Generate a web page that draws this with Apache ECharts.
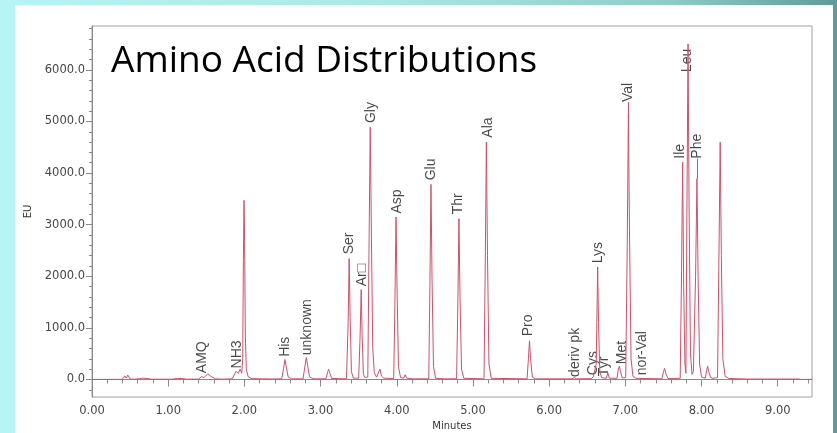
<!DOCTYPE html>
<html>
<head>
<meta charset="utf-8">
<script src="https://cdn.jsdelivr.net/npm/echarts@6/dist/echarts.min.js"></script>
<style>
  html, body { margin: 0; padding: 0; width: 837px; height: 433px; overflow: hidden; }
  body { background: linear-gradient(90deg, #b6f5f5 0%, #abe8e8 45%, #8ecbcb 80%, #5e9c9c 100%); }
  #panel { position: absolute; left: 15px; top: 5px; width: 818px; height: 428px; background: #ffffff; }
  #chart { position: absolute; left: 0; top: 0; width: 837px; height: 433px; }
</style>
</head>
<body>
<div id="panel"></div>
<div id="chart"></div>
<script>
// Fluorescence trace: [retention time (min), response (EU)]
const tracePoints = [
  [0, 0], [0.40, 3], [0.43, 70], [0.45, 25], [0.47, 85], [0.50, 8], [0.56, 5],
  [0.62, 15], [0.66, 25], [0.72, 20], [0.78, 5], [1.05, 5], [1.12, 20], [1.18, 18], [1.24, 5],
  [1.40, 8], [1.44, 55], [1.47, 35], [1.52, 110], [1.56, 60], [1.62, 12], [1.70, 5],
  [1.84, 12], [1.89, 160], [1.92, 115], [1.945, 200], [1.965, 120],
  [1.978, 400], [1.987, 2300], [1.995, 3470], [2.003, 2700], [2.012, 900], [2.025, 200], [2.05, 50], [2.10, 15],
  [2.33, 10], [2.35, 25], [2.37, 10],
  [2.49, 12], [2.515, 220], [2.533, 387], [2.55, 240], [2.575, 50], [2.62, 12],
  [2.77, 12], [2.795, 260], [2.813, 426], [2.83, 270], [2.855, 50], [2.90, 12],
  [3.07, 12], [3.095, 150], [3.105, 200], [3.118, 140], [3.145, 20],
  [3.34, 12], [3.362, 1100], [3.375, 2343], [3.388, 1200], [3.405, 150], [3.43, 25],
  [3.50, 25], [3.518, 800], [3.533, 1742], [3.546, 850], [3.562, 100], [3.58, 40],
  [3.62, 45], [3.635, 2400], [3.652, 4891], [3.668, 2700], [3.685, 600], [3.705, 130], [3.735, 45],
  [3.76, 45], [3.78, 200], [3.80, 65], [3.83, 25],
  [3.96, 18], [3.976, 1500], [3.99, 3148], [4.005, 1650], [4.022, 250], [4.05, 35],
  [4.09, 25], [4.11, 90], [4.13, 25], [4.20, 12],
  [4.42, 12], [4.435, 1800], [4.449, 3781], [4.463, 1950], [4.482, 250], [4.51, 22],
  [4.63, 12], [4.65, 30], [4.67, 12],
  [4.785, 12], [4.802, 1500], [4.816, 3117], [4.83, 1600], [4.85, 200], [4.88, 22],
  [5.145, 12], [5.161, 2200], [5.176, 4600], [5.191, 2400], [5.21, 300], [5.24, 22],
  [5.71, 12], [5.728, 400], [5.742, 748], [5.756, 400], [5.78, 45], [5.82, 12],
  [6.30, 12], [6.33, 35], [6.36, 12],
  [6.55, 15], [6.58, 50], [6.605, 35], [6.618, 300], [6.626, 1100], [6.637, 2180], [6.648, 1100], [6.665, 150], [6.69, 35],
  [6.75, 22], [6.77, 128], [6.79, 25],
  [6.89, 22], [6.908, 200], [6.922, 257], [6.937, 150], [6.96, 30],
  [7.005, 35], [7.025, 2600], [7.04, 5162], [7.055, 2800], [7.075, 400], [7.10, 60], [7.14, 22],
  [7.48, 12], [7.50, 150], [7.515, 213], [7.53, 120], [7.56, 18],
  [7.72, 22], [7.738, 2100], [7.752, 4213], [7.766, 1800], [7.782, 300], [7.795, 120],
  [7.808, 3200], [7.823, 6505], [7.837, 3300], [7.855, 500], [7.875, 100],
  [7.893, 150], [7.922, 2000], [7.94, 3892], [7.955, 2000], [7.975, 300], [8.00, 45],
  [8.05, 25], [8.068, 180], [8.08, 257], [8.095, 150], [8.12, 35], [8.15, 22], [8.18, 30],
  [8.21, 35], [8.228, 2300], [8.245, 4600], [8.26, 2400], [8.28, 400], [8.31, 60], [8.36, 18],
  [8.60, 8], [9.28, 8], [9.31, 0], [9.45, 2]
];

// Peak identification labels
const peakNames    = ['AMQ', 'NH3', 'His', 'unknown', 'Ser', 'Ar\u25A1', 'Gly', 'Asp', 'Glu', 'Thr', 'Ala', 'Pro',
                      'deriv pk', 'Cys', 'Lys', 'Tyr', 'Met', 'Val', 'nor-Val', 'Ile', 'Leu', 'Phe'];
const labelMinutes = [1.443, 1.90, 2.537, 2.82, 3.37, 3.543, 3.662, 4.003, 4.453, 4.811, 5.197, 5.729,
                      6.343, 6.583, 6.64, 6.727, 6.955, 7.035, 7.225, 7.72, 7.816, 7.94];
const labelLevels  = [122, 213, 438, 470, 2426, 1806, 4968, 3214, 3859, 3200, 4685, 838,
                      50, 83, 2252, 64, 296, 5375, 83, 4279, 5956, 4279];
// peak apex joined to its label by a short leader (null = no leader)
const leaderApex   = [null, null, null, null, null, null, null, null, null, null, null, null,
                      null, null, null, null, null, 5162, null, null, null, 3892];

// Axis ticks
const xMajorTicks = [0, 1, 2, 3, 4, 5, 6, 7, 8, 9];
const yMajorTicks = [0, 1000, 2000, 3000, 4000, 5000, 6000];
const xMinorTicks = [];
for (let i = 1; i <= 47; i++) { if (i % 5 !== 0) xMinorTicks.push(+(i * 0.2).toFixed(1)); }
const yMinorTicks = [];
for (let v = -200; v <= 6800; v += 200) { if (v % 1000 !== 0) yMinorTicks.push(v); }

const traceColor = '#cf5068';
const axisGray = '#8a8a8a';
const tickFont = { fontFamily: 'DejaVu Sans', fontSize: 11.5, color: '#474747' };

const chart = echarts.init(document.getElementById('chart'), null, { renderer: 'canvas' });

const labelData = peakNames.map((n, i) => ({ name: n, value: [labelMinutes[i], labelLevels[i]] }));
const leaderData = [];
leaderApex.forEach((a, i) => {
  if (a !== null) leaderData.push([{ coord: [labelMinutes[i], a] }, { coord: [labelMinutes[i], labelLevels[i]] }]);
});

chart.setOption({
  animation: false,
  backgroundColor: 'transparent',
  graphic: [{
    type: 'text',
    left: 111,
    top: 43,
    style: {
      text: 'Amino Acid Distributions',
      font: '37px "Open Sans"',
      fill: '#000000'
    }
  }],
  grid: {
    left: 92, top: 26, width: 720, height: 371,
    containLabel: false, outerBoundsMode: 'none',
    show: true, borderColor: '#a0a0a0', borderWidth: 1, backgroundColor: 'transparent'
  },
  xAxis: [{
    type: 'value', min: 0, max: 9.45, position: 'bottom',
    name: 'Minutes', nameLocation: 'middle', nameGap: 23,
    nameTextStyle: { fontFamily: 'DejaVu Sans', fontSize: 10, color: '#333' },
    axisLine: { show: true, lineStyle: { color: axisGray, width: 1 } },
    axisTick: { show: true, length: 7, customValues: xMajorTicks, lineStyle: { color: axisGray } },
    axisLabel: Object.assign({ customValues: xMajorTicks, margin: 8, formatter: v => v.toFixed(2) }, tickFont),
    splitLine: { show: false }
  }, {
    type: 'value', min: 0, max: 9.45, position: 'bottom',
    axisLine: { show: false },
    axisTick: { show: true, length: 4, customValues: xMinorTicks, lineStyle: { color: axisGray } },
    axisLabel: { show: false },
    splitLine: { show: false }
  }],
  yAxis: [{
    type: 'value', min: -340, max: 6850, position: 'left',
    name: 'EU', nameLocation: 'middle', nameGap: 57, nameRotate: 90,
    nameTextStyle: { fontFamily: 'DejaVu Sans', fontSize: 10, color: '#333' },
    axisLine: { show: true, lineStyle: { color: axisGray, width: 1 } },
    axisTick: { show: true, length: 6, customValues: yMajorTicks, lineStyle: { color: axisGray } },
    axisLabel: Object.assign({ customValues: yMajorTicks, margin: 7, formatter: v => v.toFixed(1) }, tickFont),
    splitLine: { show: false }
  }, {
    type: 'value', min: -340, max: 6850, position: 'left',
    axisLine: { show: false },
    axisTick: { show: true, length: 3, customValues: yMinorTicks, lineStyle: { color: axisGray } },
    axisLabel: { show: false },
    splitLine: { show: false }
  }],
  series: [{
    type: 'line',
    data: tracePoints,
    xAxisIndex: 0, yAxisIndex: 0,
    showSymbol: false,
    symbol: 'none',
    lineStyle: { color: traceColor, width: 1 },
    silent: true
  }, {
    type: 'scatter',
    data: labelData,
    xAxisIndex: 0, yAxisIndex: 0,
    symbolSize: 0,
    silent: true,
    label: {
      show: true,
      formatter: p => p.name,
      position: 'top',
      distance: 0,
      rotate: 90,
      align: 'left',
      verticalAlign: 'middle',
      fontFamily: 'Liberation Sans',
      fontSize: 14,
      color: '#1a1a1a'
    },
    markLine: {
      silent: true,
      symbol: 'none',
      label: { show: false },
      lineStyle: { color: traceColor, width: 1, type: 'solid' },
      data: leaderData
    }
  }]
});
</script>
</body>
</html>
